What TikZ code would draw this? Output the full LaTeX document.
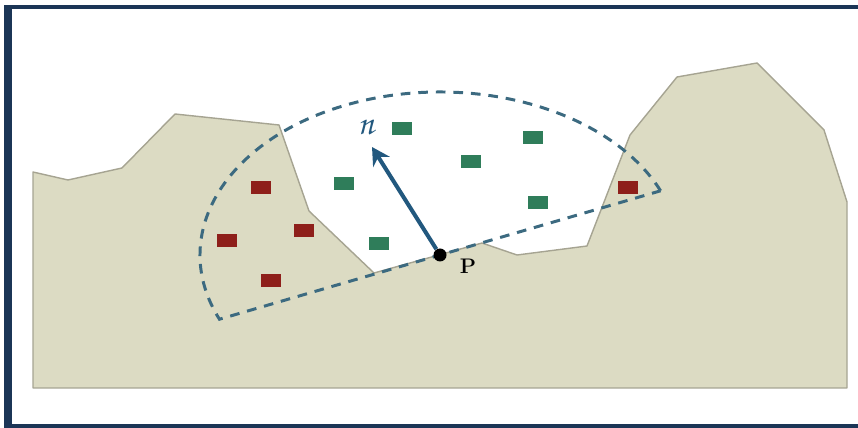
\documentclass[tikz,border=0pt]{standalone}
\usepackage{fontspec}
\usetikzlibrary{arrows.meta}
\newcommand\chancery{\usefont{OT1}{pzc}{mb}{it}}
\definecolor{ground}{HTML}{DCDBC3}
\definecolor{groundedge}{HTML}{A6A492}
\definecolor{framecol}{HTML}{1B3556}
\definecolor{dashcol}{HTML}{3C6A80}
\definecolor{normalcol}{HTML}{22587E}
\definecolor{inpt}{HTML}{2F7D5A}
\definecolor{outpt}{HTML}{8E1F1A}
\begin{document}
\begin{tikzpicture}[x=0.02cm,y=-0.02cm,
  sample/.style={rectangle,inner sep=0pt,minimum width=0.4cm,minimum height=0.26cm},
  insample/.style={sample,fill=inpt},
  outsample/.style={sample,fill=outpt},
  region/.style={draw=dashcol,line width=1.7pt,dash pattern=on 5.5pt off 4.5pt}]
\useasboundingbox (0,0) rectangle (858,428);

% frame
\fill[framecol] (4,5) rectangle (12,428);
\fill[framecol] (4,5) rectangle (860,9);
\fill[framecol] (4,424.5) rectangle (860,428);

% terrain profile
\filldraw[fill=ground,draw=groundedge,line width=0.8pt,line join=round]
  (33,388) -- (33,172) -- (68,180) -- (122,168) -- (175,114) -- (279,125)
  -- (309,211) -- (374,273) -- (482,243) -- (517,255) -- (587,246)
  -- (630,135) -- (677,77) -- (757,63) -- (824,130) -- (847,202)
  -- (847,388) -- cycle;

% half-ellipse neighbourhood around P
\coordinate (P) at (440,255);
\draw[region] (P) ++(220.6,-64.2)
  arc[start angle=-23.2,end angle=-203.2,x radius=240,y radius=163] -- cycle;

% samples inside the neighbourhood
\node[insample] (g1) at (402,129) {};
\node[insample] (g2) at (533,138) {};
\node[insample] (g3) at (471,162) {};
\node[insample] (g4) at (344,184) {};
\node[insample] (g5) at (538,203) {};
\node[insample] (g6) at (379,244) {};
% occluded samples
\node[outsample] (r1) at (261,188) {};
\node[outsample] (r2) at (227,241) {};
\node[outsample] (r3) at (304,231) {};
\node[outsample] (r4) at (271,281) {};
\node[outsample] (r5) at (628,188) {};

% surface point and normal
\node[circle,fill=black,inner sep=0pt,minimum size=0.26cm] (Pdot) at (P) {};
\coordinate (ntip) at (372,147);
\draw[normalcol,line width=2.3pt,-{Stealth[length=10pt,width=11pt]}] (Pdot) -- (ntip);
\node[text=normalcol,font=\chancery\fontsize{20}{20}\selectfont] (nlabel) at (366,127) {n};
\node[font=\bfseries\fontsize{12}{12}\selectfont] (Plabel) at (468,266) {P};
\end{tikzpicture}
\end{document}
